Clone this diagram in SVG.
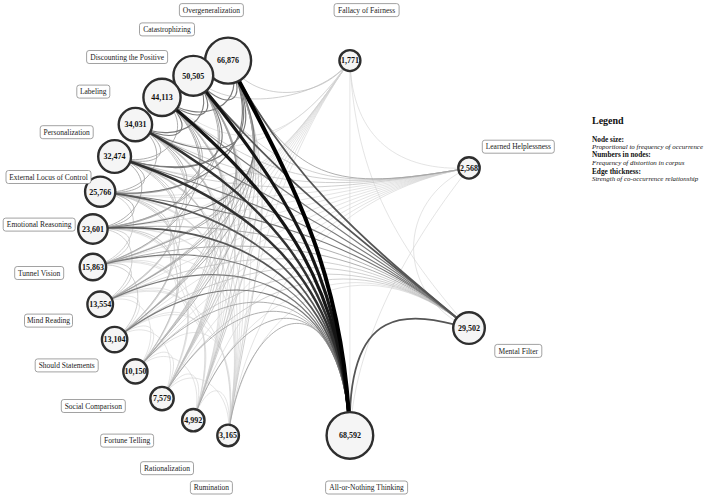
<svg xmlns="http://www.w3.org/2000/svg" width="708" height="498" viewBox="0 0 708 498">
<style>
path{fill:none;stroke-linecap:round}
.e0{stroke:#d2d2d2;stroke-width:.6}
.e1{stroke:#bcbcbc;stroke-width:.7}
.e2{stroke:#a0a0a0;stroke-width:.85}
.e3{stroke:#7a7a7a;stroke-width:1.15}
.e4{stroke:#555;stroke-width:1.8}
.e5{stroke:#303030;stroke-width:2.5}
.e6{stroke:#151515;stroke-width:3.2}
.e7{stroke:#000;stroke-width:4}
.n circle{fill:#f5f5f5;stroke:#2e2e2e;stroke-width:2.4}
.n text.v{font:bold 8px "Liberation Serif",serif;text-anchor:middle;fill:#111}
.n rect{fill:#fff;stroke:#8a8a8a;stroke-width:.8}
.n text.l{font:7.5px "Liberation Serif",serif;text-anchor:middle;fill:#222}
.lg{font-family:"Liberation Serif",serif;fill:#111}
</style>
<rect width="708" height="498" fill="#fff"/>
<g id="edges">
<path class="e0" d="M228.1,435.4C235.1,385.8 209.6,372.9 193.3,420.2"/>
<path class="e0" d="M228.1,435.4C235.1,385.8 187.1,355.3 162.0,398.6"/>
<path class="e0" d="M228.1,435.4C242.0,336.3 201.3,296.2 135.4,371.4"/>
<path class="e0" d="M228.1,435.4C242.0,336.3 193.7,278.4 114.6,339.6"/>
<path class="e0" d="M228.1,435.4C242.0,336.3 189.6,259.5 100.2,304.3"/>
<path class="e0" d="M228.1,435.4C247.6,296.7 227.8,229.5 92.9,267.0"/>
<path class="e0" d="M228.1,435.4C247.6,296.7 232.5,218.1 92.9,229.0"/>
<path class="e0" d="M228.1,435.4C247.6,296.7 239.3,207.8 100.2,191.7"/>
<path class="e0" d="M228.1,435.4C247.6,296.7 247.9,199.0 114.6,156.5"/>
<path class="e0" d="M228.1,435.4C247.6,296.7 258.2,192.0 135.4,124.6"/>
<path class="e0" d="M228.1,435.4C247.6,296.7 269.5,187.1 162.0,97.4"/>
<path class="e0" d="M228.1,435.4C247.6,296.7 281.6,184.5 193.3,75.8"/>
<path class="e0" d="M193.3,420.2C209.6,372.9 187.1,355.3 162.0,398.6"/>
<path class="e0" d="M193.3,420.2C209.6,372.9 168.4,333.8 135.4,371.4"/>
<path class="e0" d="M193.3,420.2C226.0,325.7 193.7,278.4 114.6,339.6"/>
<path class="e0" d="M193.3,420.2C226.0,325.7 189.6,259.5 100.2,304.3"/>
<path class="e0" d="M193.3,420.2C226.0,325.7 189.3,240.2 92.9,267.0"/>
<path class="e0" d="M193.3,420.2C239.0,287.9 232.5,218.1 92.9,229.0"/>
<path class="e0" d="M193.3,420.2C239.0,287.9 239.3,207.8 100.2,191.7"/>
<path class="e0" d="M193.3,420.2C239.0,287.9 247.9,199.0 114.6,156.5"/>
<path class="e0" d="M193.3,420.2C239.0,287.9 258.2,192.0 135.4,124.6"/>
<path class="e0" d="M162.0,398.6C187.1,355.3 168.4,333.8 135.4,371.4"/>
<path class="e0" d="M162.0,398.6C187.1,355.3 154.1,309.0 114.6,339.6"/>
<path class="e0" d="M162.0,398.6C212.2,312.1 189.6,259.5 100.2,304.3"/>
<path class="e0" d="M162.0,398.6C212.2,312.1 189.3,240.2 92.9,267.0"/>
<path class="e0" d="M162.0,398.6C212.2,312.1 192.6,221.2 92.9,229.0"/>
<path class="e0" d="M162.0,398.6C232.3,277.5 239.3,207.8 100.2,191.7"/>
<path class="e0" d="M135.4,371.4C168.4,333.8 154.1,309.0 114.6,339.6"/>
<path class="e0" d="M135.4,371.4C168.4,333.8 144.9,281.9 100.2,304.3"/>
<path class="e0" d="M135.4,371.4C201.3,296.2 189.3,240.2 92.9,267.0"/>
<path class="e0" d="M114.6,339.6C154.1,309.0 144.9,281.9 100.2,304.3"/>
<path class="e0" d="M193.3,420.2C239.0,287.9 361.7,238.1 469.0,328.1"/>
<path class="e0" d="M228.1,435.4C247.6,296.7 361.7,238.1 469.0,328.1"/>
<path class="e0" d="M100.2,191.7C239.3,207.8 331.1,192.2 469.0,167.9"/>
<path class="e0" d="M92.9,229.0C232.5,218.1 331.1,192.2 469.0,167.9"/>
<path class="e0" d="M92.9,267.0C227.8,229.5 331.1,192.2 469.0,167.9"/>
<path class="e0" d="M100.2,304.3C225.4,241.6 331.1,192.2 469.0,167.9"/>
<path class="e0" d="M114.6,339.6C225.3,253.9 331.1,192.2 469.0,167.9"/>
<path class="e0" d="M135.4,371.4C227.7,266.1 331.1,192.2 469.0,167.9"/>
<path class="e0" d="M162.0,398.6C232.3,277.5 331.1,192.2 469.0,167.9"/>
<path class="e0" d="M193.3,420.2C239.0,287.9 331.1,192.2 469.0,167.9"/>
<path class="e0" d="M228.1,435.4C247.6,296.7 331.1,192.2 469.0,167.9"/>
<path class="e0" d="M162.0,97.4C238.8,161.5 292.5,142.5 349.9,60.6"/>
<path class="e0" d="M135.4,124.6C223.1,172.7 292.5,142.5 349.9,60.6"/>
<path class="e0" d="M114.6,156.5C247.9,199.0 269.6,175.3 349.9,60.6"/>
<path class="e0" d="M100.2,191.7C239.3,207.8 269.6,175.3 349.9,60.6"/>
<path class="e0" d="M92.9,229.0C232.5,218.1 269.6,175.3 349.9,60.6"/>
<path class="e0" d="M92.9,267.0C227.8,229.5 269.6,175.3 349.9,60.6"/>
<path class="e0" d="M100.2,304.3C225.4,241.6 269.6,175.3 349.9,60.6"/>
<path class="e0" d="M114.6,339.6C225.3,253.9 269.6,175.3 349.9,60.6"/>
<path class="e0" d="M135.4,371.4C227.7,266.1 269.6,175.3 349.9,60.6"/>
<path class="e0" d="M162.0,398.6C232.3,277.5 269.6,175.3 349.9,60.6"/>
<path class="e0" d="M193.3,420.2C239.0,287.9 269.6,175.3 349.9,60.6"/>
<path class="e0" d="M228.1,435.4C247.6,296.7 269.6,175.3 349.9,60.6"/>
<path class="e0" d="M349.9,60.6C352,140 400,172 469.0,167.9"/>
<path class="e0" d="M349.9,60.6C355,180 400,250 469.0,328.1"/>
<path class="e0" d="M349.9,60.6L349.9,435.4"/>
<path class="e0" d="M469.0,167.9C395,200 395,296 469.0,328.1"/>
<path class="e0" d="M469.0,167.9C420,230 355,330 349.9,435.4"/>
<path class="e1" d="M228.1,435.4C247.6,296.7 293.9,184.3 228.1,60.6"/>
<path class="e1" d="M193.3,420.2C239.0,287.9 293.9,184.3 228.1,60.6"/>
<path class="e1" d="M162.0,398.6C232.3,277.5 293.9,184.3 228.1,60.6"/>
<path class="e1" d="M193.3,420.2C239.0,287.9 281.6,184.5 193.3,75.8"/>
<path class="e1" d="M162.0,398.6C232.3,277.5 281.6,184.5 193.3,75.8"/>
<path class="e1" d="M135.4,371.4C227.7,266.1 281.6,184.5 193.3,75.8"/>
<path class="e1" d="M193.3,420.2C239.0,287.9 269.5,187.1 162.0,97.4"/>
<path class="e1" d="M162.0,398.6C232.3,277.5 269.5,187.1 162.0,97.4"/>
<path class="e1" d="M135.4,371.4C227.7,266.1 269.5,187.1 162.0,97.4"/>
<path class="e1" d="M114.6,339.6C225.3,253.9 269.5,187.1 162.0,97.4"/>
<path class="e1" d="M100.2,304.3C225.4,241.6 269.5,187.1 162.0,97.4"/>
<path class="e1" d="M162.0,398.6C232.3,277.5 258.2,192.0 135.4,124.6"/>
<path class="e1" d="M135.4,371.4C227.7,266.1 258.2,192.0 135.4,124.6"/>
<path class="e1" d="M114.6,339.6C225.3,253.9 258.2,192.0 135.4,124.6"/>
<path class="e1" d="M100.2,304.3C189.6,259.5 223.1,172.7 135.4,124.6"/>
<path class="e1" d="M92.9,267.0C189.3,240.2 223.1,172.7 135.4,124.6"/>
<path class="e1" d="M162.0,398.6C232.3,277.5 247.9,199.0 114.6,156.5"/>
<path class="e1" d="M135.4,371.4C227.7,266.1 247.9,199.0 114.6,156.5"/>
<path class="e1" d="M114.6,339.6C193.7,278.4 209.8,186.8 114.6,156.5"/>
<path class="e1" d="M100.2,304.3C189.6,259.5 209.8,186.8 114.6,156.5"/>
<path class="e1" d="M92.9,267.0C189.3,240.2 209.8,186.8 114.6,156.5"/>
<path class="e1" d="M135.4,371.4C201.3,296.2 199.6,203.2 100.2,191.7"/>
<path class="e1" d="M114.6,339.6C193.7,278.4 199.6,203.2 100.2,191.7"/>
<path class="e1" d="M100.2,304.3C189.6,259.5 199.6,203.2 100.2,191.7"/>
<path class="e1" d="M92.9,267.0C141.1,253.6 149.9,197.4 100.2,191.7"/>
<path class="e1" d="M135.4,371.4C201.3,296.2 192.6,221.2 92.9,229.0"/>
<path class="e1" d="M114.6,339.6C193.7,278.4 192.6,221.2 92.9,229.0"/>
<path class="e1" d="M100.2,304.3C144.9,281.9 142.8,225.1 92.9,229.0"/>
<path class="e1" d="M92.9,267.0C141.1,253.6 142.8,225.1 92.9,229.0"/>
<path class="e1" d="M114.6,339.6C154.1,309.0 141.1,253.6 92.9,267.0"/>
<path class="e1" d="M100.2,304.3C144.9,281.9 141.1,253.6 92.9,267.0"/>
<path class="e1" d="M100.2,304.3C225.4,241.6 361.7,238.1 469.0,328.1"/>
<path class="e1" d="M114.6,339.6C225.3,253.9 361.7,238.1 469.0,328.1"/>
<path class="e1" d="M135.4,371.4C227.7,266.1 361.7,238.1 469.0,328.1"/>
<path class="e1" d="M162.0,398.6C232.3,277.5 361.7,238.1 469.0,328.1"/>
<path class="e1" d="M193.3,75.8C281.6,184.5 331.1,192.2 469.0,167.9"/>
<path class="e1" d="M162.0,97.4C269.5,187.1 331.1,192.2 469.0,167.9"/>
<path class="e1" d="M135.4,124.6C258.2,192.0 331.1,192.2 469.0,167.9"/>
<path class="e1" d="M114.6,156.5C247.9,199.0 331.1,192.2 469.0,167.9"/>
<path class="e1" d="M228.1,60.6C251.6,104.8 321.2,101.6 349.9,60.6"/>
<path class="e1" d="M193.3,75.8C224.8,114.6 321.2,101.6 349.9,60.6"/>
<path class="e2" d="M92.9,267.0C227.8,229.5 293.9,184.3 228.1,60.6"/>
<path class="e2" d="M100.2,304.3C225.4,241.6 293.9,184.3 228.1,60.6"/>
<path class="e2" d="M114.6,339.6C225.3,253.9 293.9,184.3 228.1,60.6"/>
<path class="e2" d="M135.4,371.4C227.7,266.1 293.9,184.3 228.1,60.6"/>
<path class="e2" d="M100.2,191.7C199.6,203.2 256.3,153.4 193.3,75.8"/>
<path class="e2" d="M92.9,229.0C192.6,221.2 256.3,153.4 193.3,75.8"/>
<path class="e2" d="M92.9,267.0C227.8,229.5 281.6,184.5 193.3,75.8"/>
<path class="e2" d="M100.2,304.3C225.4,241.6 281.6,184.5 193.3,75.8"/>
<path class="e2" d="M114.6,339.6C225.3,253.9 281.6,184.5 193.3,75.8"/>
<path class="e2" d="M114.6,156.5C162.2,171.7 200.4,129.5 162.0,97.4"/>
<path class="e2" d="M100.2,191.7C199.6,203.2 238.8,161.5 162.0,97.4"/>
<path class="e2" d="M92.9,229.0C192.6,221.2 238.8,161.5 162.0,97.4"/>
<path class="e2" d="M92.9,267.0C189.3,240.2 238.8,161.5 162.0,97.4"/>
<path class="e2" d="M114.6,156.5C162.2,171.7 179.3,148.7 135.4,124.6"/>
<path class="e2" d="M100.2,191.7C149.9,197.4 179.3,148.7 135.4,124.6"/>
<path class="e2" d="M92.9,229.0C192.6,221.2 223.1,172.7 135.4,124.6"/>
<path class="e2" d="M100.2,191.7C149.9,197.4 162.2,171.7 114.6,156.5"/>
<path class="e2" d="M92.9,229.0C142.8,225.1 162.2,171.7 114.6,156.5"/>
<path class="e2" d="M92.9,229.0C142.8,225.1 149.9,197.4 100.2,191.7"/>
<path class="e2" d="M135.4,371.4C227.7,266.1 344.3,275.5 349.9,435.4"/>
<path class="e2" d="M162.0,398.6C232.3,277.5 344.3,275.5 349.9,435.4"/>
<path class="e2" d="M193.3,420.2C239.0,287.9 344.3,275.5 349.9,435.4"/>
<path class="e2" d="M228.1,435.4C247.6,296.7 344.3,275.5 349.9,435.4"/>
<path class="e2" d="M92.9,229.0C232.5,218.1 361.7,238.1 469.0,328.1"/>
<path class="e2" d="M92.9,267.0C227.8,229.5 361.7,238.1 469.0,328.1"/>
<path class="e2" d="M228.1,60.6C293.9,184.3 331.1,192.2 469.0,167.9"/>
<path class="e3" d="M193.3,75.8C224.8,114.6 251.6,104.8 228.1,60.6"/>
<path class="e3" d="M162.0,97.4C200.4,129.5 251.6,104.8 228.1,60.6"/>
<path class="e3" d="M135.4,124.6C223.1,172.7 275.1,148.9 228.1,60.6"/>
<path class="e3" d="M114.6,156.5C209.8,186.8 275.1,148.9 228.1,60.6"/>
<path class="e3" d="M100.2,191.7C199.6,203.2 275.1,148.9 228.1,60.6"/>
<path class="e3" d="M92.9,229.0C232.5,218.1 293.9,184.3 228.1,60.6"/>
<path class="e3" d="M162.0,97.4C200.4,129.5 224.8,114.6 193.3,75.8"/>
<path class="e3" d="M135.4,124.6C179.3,148.7 224.8,114.6 193.3,75.8"/>
<path class="e3" d="M114.6,156.5C209.8,186.8 256.3,153.4 193.3,75.8"/>
<path class="e3" d="M135.4,124.6C179.3,148.7 200.4,129.5 162.0,97.4"/>
<path class="e3" d="M92.9,267.0C227.8,229.5 344.3,275.5 349.9,435.4"/>
<path class="e3" d="M100.2,304.3C225.4,241.6 344.3,275.5 349.9,435.4"/>
<path class="e3" d="M114.6,339.6C225.3,253.9 344.3,275.5 349.9,435.4"/>
<path class="e3" d="M162.0,97.4C269.5,187.1 361.7,238.1 469.0,328.1"/>
<path class="e3" d="M135.4,124.6C258.2,192.0 361.7,238.1 469.0,328.1"/>
<path class="e3" d="M114.6,156.5C247.9,199.0 361.7,238.1 469.0,328.1"/>
<path class="e3" d="M100.2,191.7C239.3,207.8 361.7,238.1 469.0,328.1"/>
<path class="e4" d="M100.2,191.7C239.3,207.8 344.3,275.5 349.9,435.4"/>
<path class="e4" d="M92.9,229.0C232.5,218.1 344.3,275.5 349.9,435.4"/>
<path class="e4" d="M228.1,60.6C293.9,184.3 361.7,238.1 469.0,328.1"/>
<path class="e4" d="M193.3,75.8C281.6,184.5 361.7,238.1 469.0,328.1"/>
<path class="e4" d="M469.0,328.1C410,312 346,300 349.9,435.4"/>
<path class="e5" d="M135.4,124.6C258.2,192.0 344.3,275.5 349.9,435.4"/>
<path class="e5" d="M114.6,156.5C247.9,199.0 344.3,275.5 349.9,435.4"/>
<path class="e6" d="M162.0,97.4C269.5,187.1 344.3,275.5 349.9,435.4"/>
<path class="e6" d="M193.3,75.8C281.6,184.5 344.3,275.5 349.9,435.4"/>
<path class="e7" d="M228.1,60.6C293.9,184.3 344.3,275.5 349.9,435.4"/>
</g>
<g id="n-overgeneralization" class="n"><circle cx="228.1" cy="60.6" r="23"/><text class="v" x="228.1" y="63.4">66,876</text><rect x="179.4" y="3.6" width="64" height="13" rx="2.5"/><text class="l" x="211.4" y="12.7">Overgeneralization</text></g>
<g id="n-catastrophizing" class="n"><circle cx="193.3" cy="75.8" r="19.9"/><text class="v" x="193.3" y="78.6">50,505</text><rect x="139.5" y="22.9" width="55" height="13" rx="2.5"/><text class="l" x="167" y="32">Catastrophizing</text></g>
<g id="n-discounting" class="n"><circle cx="162" cy="97.4" r="18.6"/><text class="v" x="162" y="100.2">44,113</text><rect x="86.6" y="50.5" width="81" height="13" rx="2.5"/><text class="l" x="127.1" y="59.6">Discounting the Positive</text></g>
<g id="n-labeling" class="n"><circle cx="135.4" cy="124.6" r="16.7"/><text class="v" x="135.4" y="127.4">34,031</text><rect x="76.8" y="85.1" width="33" height="13" rx="2.5"/><text class="l" x="93.3" y="94.2">Labeling</text></g>
<g id="n-personalization" class="n"><circle cx="114.6" cy="156.5" r="16.4"/><text class="v" x="114.6" y="159.3">32,474</text><rect x="40.2" y="125.7" width="53" height="13" rx="2.5"/><text class="l" x="66.7" y="134.8">Personalization</text></g>
<g id="n-external-locus" class="n"><circle cx="100.2" cy="191.7" r="15.1"/><text class="v" x="100.2" y="194.5">25,766</text><rect x="6" y="170.5" width="85" height="13" rx="2.5"/><text class="l" x="48.5" y="179.6">External Locus of Control</text></g>
<g id="n-emotional-reasoning" class="n"><circle cx="92.9" cy="229" r="14.7"/><text class="v" x="92.9" y="231.8">23,601</text><rect x="3.2" y="218.1" width="72" height="13" rx="2.5"/><text class="l" x="39.2" y="227.2">Emotional Reasoning</text></g>
<g id="n-tunnel-vision" class="n"><circle cx="92.9" cy="267" r="13.2"/><text class="v" x="92.9" y="269.8">15,863</text><rect x="14.7" y="266.5" width="49" height="13" rx="2.5"/><text class="l" x="39.2" y="275.6">Tunnel Vision</text></g>
<g id="n-mind-reading" class="n"><circle cx="100.2" cy="304.3" r="12.8"/><text class="v" x="100.2" y="307.1">13,554</text><rect x="24.5" y="314.1" width="48" height="13" rx="2.5"/><text class="l" x="48.5" y="323.2">Mind Reading</text></g>
<g id="n-should-statements" class="n"><circle cx="114.6" cy="339.6" r="12.7"/><text class="v" x="114.6" y="342.4">13,104</text><rect x="35.2" y="358.9" width="63" height="13" rx="2.5"/><text class="l" x="66.7" y="368">Should Statements</text></g>
<g id="n-social-comparison" class="n"><circle cx="135.4" cy="371.4" r="12.1"/><text class="v" x="135.4" y="374.2">10,150</text><rect x="61.3" y="399.5" width="64" height="13" rx="2.5"/><text class="l" x="93.3" y="408.6">Social Comparison</text></g>
<g id="n-fortune-telling" class="n"><circle cx="162" cy="398.6" r="11.7"/><text class="v" x="162" y="401.4">7,579</text><rect x="100.6" y="434.1" width="53" height="13" rx="2.5"/><text class="l" x="127.1" y="443.2">Fortune Telling</text></g>
<g id="n-rationalization" class="n"><circle cx="193.3" cy="420.2" r="11.2"/><text class="v" x="193.3" y="423">4,992</text><rect x="140.5" y="461.7" width="53" height="13" rx="2.5"/><text class="l" x="167" y="470.8">Rationalization</text></g>
<g id="n-rumination" class="n"><circle cx="228.1" cy="435.4" r="10.8"/><text class="v" x="228.1" y="438.2">3,165</text><rect x="190.4" y="481" width="42" height="13" rx="2.5"/><text class="l" x="211.4" y="490.1">Rumination</text></g>
<g id="n-all-or-nothing" class="n"><circle cx="349.9" cy="435.4" r="23.3"/><text class="v" x="349.9" y="438.2">68,592</text><rect x="325.6" y="481" width="82" height="13" rx="2.5"/><text class="l" x="366.6" y="490.1">All-or-Nothing Thinking</text></g>
<g id="n-mental-filter" class="n"><circle cx="469" cy="328.1" r="15.8"/><text class="v" x="469" y="330.9">29,502</text><rect x="494.8" y="344.4" width="47" height="13" rx="2.5"/><text class="l" x="518.3" y="353.5">Mental Filter</text></g>
<g id="n-learned-helplessness" class="n"><circle cx="469" cy="167.9" r="10.7"/><text class="v" x="469" y="170.7">2,568</text><rect x="482.3" y="140.2" width="72" height="13" rx="2.5"/><text class="l" x="518.3" y="149.3">Learned Helplessness</text></g>
<g id="n-fallacy-of-fairness" class="n"><circle cx="349.9" cy="60.6" r="10.5"/><text class="v" x="349.9" y="63.4">1,771</text><rect x="334.1" y="3.6" width="65" height="13" rx="2.5"/><text class="l" x="366.6" y="12.7">Fallacy of Fairness</text></g>
<g id="legend" class="lg">
<text x="592" y="123.5" font-size="10" font-weight="bold">Legend</text>
<text x="592" y="141.5" font-size="7.3" font-weight="bold">Node size:</text>
<text x="592" y="149" font-size="6.9" font-style="italic">Proportional to frequency of occurrence</text>
<text x="592" y="157" font-size="7.3" font-weight="bold">Numbers in nodes:</text>
<text x="592" y="164.5" font-size="6.9" font-style="italic">Frequency of distortion in corpus</text>
<text x="592" y="173.5" font-size="7.3" font-weight="bold">Edge thickness:</text>
<text x="592" y="181" font-size="6.9" font-style="italic">Strength of co-occurrence relationship</text>
</g>
</svg>
